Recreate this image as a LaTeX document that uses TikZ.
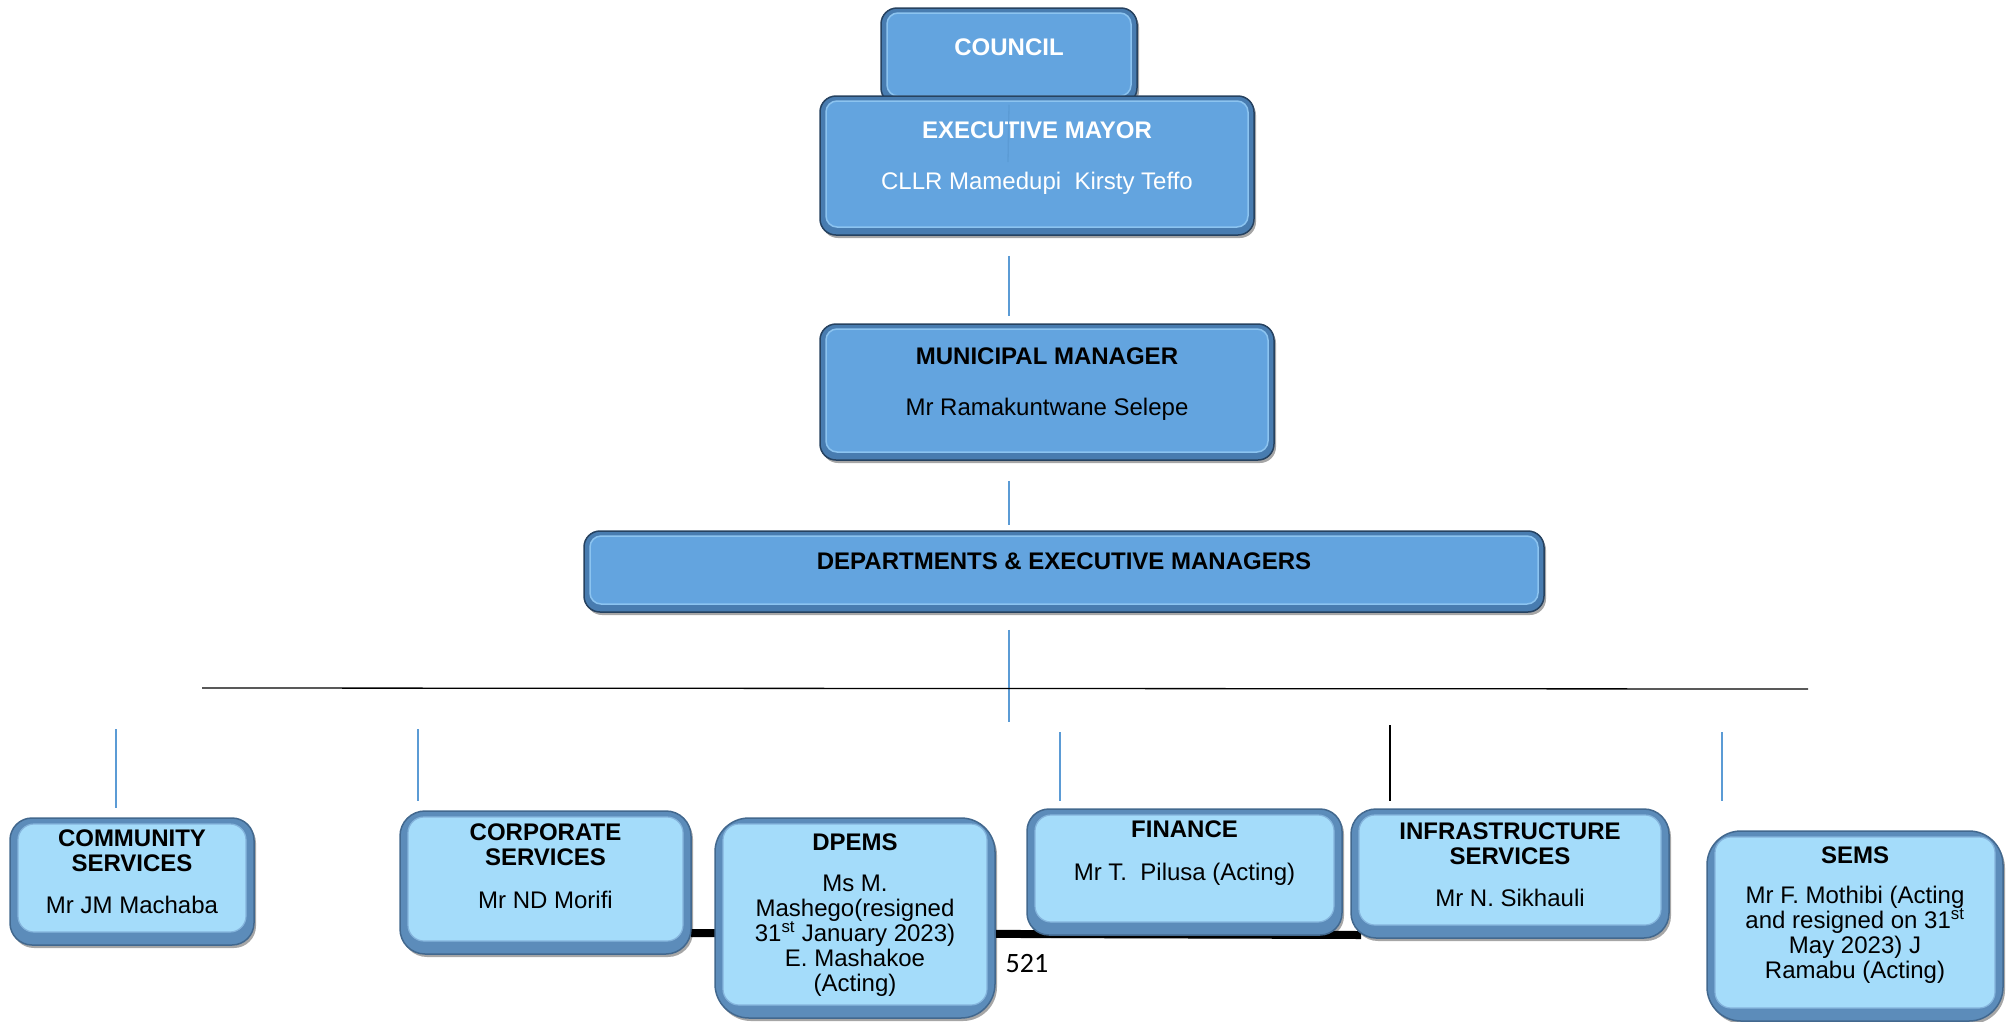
\documentclass[tikz,border=0pt]{standalone}
\usepackage{fontspec}
\setmainfont{Liberation Sans}
\newfontfamily\pagefont{Carlito}
\usetikzlibrary{shadows}
\definecolor{topfill}{RGB}{99,164,223}
\definecolor{topbevel}{RGB}{72,124,176}
\definecolor{tophl}{RGB}{140,196,240}
\definecolor{botfill}{RGB}{164,220,250}
\definecolor{botbevel}{RGB}{92,140,186}
\definecolor{bothl}{RGB}{132,180,220}
\definecolor{edgedark}{RGB}{38,66,96}
\definecolor{edgesoft}{RGB}{66,104,142}
\definecolor{linkblue}{RGB}{91,155,213}
\newcommand{\bt}[4]{\parbox[c][#2][t]{#1}{\vspace*{#3}\centering\fontsize{24pt}{25pt}\selectfont #4\par}}
\tikzset{
  boxbase/.style={inner sep=0pt, draw=edgedark, line width=1.5pt,
    drop shadow={shadow xshift=2pt, shadow yshift=-3pt, opacity=.35, fill=black}},
  topbox/.style={boxbase, fill=topbevel, rounded corners=16pt,
    path picture={\draw[fill=topfill, draw=tophl, line width=1.5pt, rounded corners=11pt]
      ([shift={(6pt,8pt)}]path picture bounding box.south west) rectangle
      ([shift={(-6pt,-5pt)}]path picture bounding box.north east);}},
  botbox/.style={boxbase, draw=edgesoft, fill=botbevel, rounded corners=#1,
    path picture={\draw[fill=botfill, draw=bothl, line width=1.2pt, rounded corners=16pt]
      ([shift={(8pt,13pt)}]path picture bounding box.south west) rectangle
      ([shift={(-8pt,-6pt)}]path picture bounding box.north east);}},
  botbox/.default=24pt,
  blueline/.style={draw=linkblue, line width=1.3pt},
  blackline/.style={draw=black, line width=1.3pt},
}
\begin{document}
\begin{tikzpicture}[x=1pt, y=-1pt]
\useasboundingbox (0,0) rectangle (2013,1021);
% thick black line behind the lower boxes
\coordinate (tl) at (691,933);
\coordinate (tr) at (1361,935);
\draw[line width=8pt] (tl) -- (tr);

\node[topbox] (council) at (1009,56) {\bt{256pt}{96pt}{30.4pt}{\color{white}\bfseries COUNCIL}};
\node[topbox] (mayor) at (1037,165.5) {\bt{434pt}{139pt}{25.4pt}{\color{white}\textbf{EXECUTIVE MAYOR}\\[26pt]CLLR Mamedupi~ Kirsty Teffo}};
\coordinate (cm) at (1008,162);
\draw[blueline] (council.south) -- (cm);

\node[topbox] (mm) at (1047,392) {\bt{454pt}{136pt}{23.4pt}{\textbf{MUNICIPAL MANAGER}\\[26pt]Mr Ramakuntwane Selepe}};
\node[topbox] (dept) at (1064,571.5) {\bt{960pt}{81pt}{21.4pt}{\textbf{DEPARTMENTS \& EXECUTIVE MANAGERS}}};

\draw[blueline, shorten <=20pt, shorten >=7pt] (council.south |- mayor.south) -- (council.south |- mm.north);
\draw[blueline, shorten <=20pt, shorten >=5pt] (council.south |- mm.south) -- (council.south |- dept.north);
\coordinate (hub) at (1009,722);
\draw[blueline, shorten <=17pt] (council.south |- dept.south) -- (hub);

\coordinate (hl) at (202,688);
\coordinate (hr) at (1808,689);
\draw[blackline] (hl) -- (hr);

\node[botbox=22pt] (cs) at (132,881.5) {\bt{244pt}{127pt}{11.4pt}{\textbf{COMMUNITY}\\\textbf{SERVICES}\\[17pt]Mr JM Machaba}};
\node[botbox=25pt] (corp) at (545.5,882.5) {\bt{291pt}{143pt}{12.4pt}{\textbf{CORPORATE}\\\textbf{SERVICES}\\[18pt]Mr ND Morifi}};
\node[botbox=34pt] (dpems) at (855,918) {\bt{280pt}{200pt}{15.4pt}{\textbf{DPEMS}\\[16pt]Ms M.\\Mashego(resigned\\31\textsuperscript{st} January 2023)\\E. Mashakoe\\(Acting)}};
\node[botbox=22pt] (fin) at (1184.5,872) {\bt{315pt}{126pt}{11.4pt}{\textbf{FINANCE}\\[18pt]Mr T.~ Pilusa (Acting)}};
\node[botbox=25pt] (infra) at (1510,873.5) {\bt{318pt}{129pt}{13.4pt}{\textbf{INFRASTRUCTURE}\\\textbf{SERVICES}\\[17pt]Mr N. Sikhauli}};
\node[botbox=34pt] (sems) at (1855,926) {\bt{296pt}{190pt}{15.4pt}{\textbf{SEMS}\\[15pt]Mr F. Mothibi (Acting\\and resigned on 31\textsuperscript{st}\\May 2023) J\\Ramabu (Acting)}};

\coordinate (s1) at (116,729);
\coordinate (s2) at (418,729);
\coordinate (s3) at (1060,732);
\coordinate (s4) at (1390,725);
\coordinate (s5) at (1722,732);
\draw[blueline, shorten >=9pt] (s1) -- (s1 |- cs.north);
\draw[blueline, shorten >=9pt] (s2) -- (s2 |- corp.north);
\draw[blueline, shorten >=7pt] (s3) -- (s3 |- fin.north);
\draw[blackline, shorten >=7pt] (s4) -- (s4 |- infra.north);
\draw[blueline, shorten >=29pt] (s5) -- (s5 |- sems.north);

\node[inner sep=0pt] (pg) at (1027,963) {\pagefont\fontsize{28pt}{30pt}\selectfont 521};
\end{tikzpicture}
\end{document}
